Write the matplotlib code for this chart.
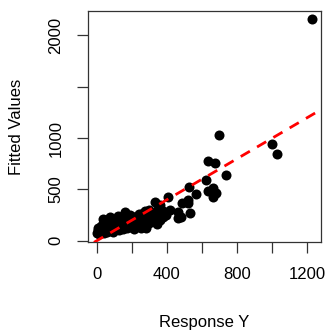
import matplotlib
matplotlib.use("Agg")
import matplotlib.pyplot as plt

plt.rcParams['font.family'] = ['Liberation Sans', 'DejaVu Sans']

# response (x) vs fitted (y)
response_y = [1228, 695, 1001, 1025, 632, 674, 735, 623, 664, 636, 680, 664,
              528, 566, 522, 484, 532, 408, 465, 465, 418, 380, 332, 361,
              342, 332, 275, 294, 237, 209, 161, 190, 133, 76, 38, 9, 2, 13,
              20, 30, 45, 50, 60, 70, 80, 90, 100, 110, 120, 130, 140, 150,
              160, 170, 180, 190, 200, 210, 220, 230, 240, 250, 260, 270, 280,
              300, 310, 320, 290, 250, 205, 120, 100, 60, 40, 25, 85, 150,
              175, 240, 280, 350, 300, 10, 35, 55, 65, 95, 125, 145, 165, 195,
              215, 350, 380, 395, 360, 320, 300, 250, 280, 215, 520, 480]
fitted = [2158, 1030, 942, 842, 780, 760, 643, 592, 517, 484, 468, 423,
          520, 455, 397, 370, 267, 429, 218, 283, 299, 234, 380, 348,
          163, 267, 292, 202, 202, 234, 283, 250, 202, 234, 211, 104, 72, 70,
          90, 120, 150, 100, 180, 130, 160, 110, 140, 190, 120, 160, 130, 200,
          150, 140, 180, 160, 150, 190, 160, 140, 170, 230, 150, 180, 140,
          170, 220, 190, 250, 260, 170, 240, 200, 90, 80, 140, 210, 110,
          120, 260, 210, 310, 300, 120, 160, 200, 110, 90, 100, 170, 210, 130,
          230, 230, 290, 250, 200, 260, 200, 120, 125, 115, 367, 234]

x_ticks = [0, 200, 400, 600, 800, 1000, 1200]
x_labels = ['0', '', '400', '', '800', '', '1200']
y_ticks = [0, 500, 1000, 1500, 2000]
y_labels = ['0', '500', '1000', '', '2000']

fig = plt.figure(figsize=(3.32, 3.32), dpi=100)
ax = fig.add_axes([0.266, 0.270, 0.700, 0.698])

ax.scatter(response_y, fitted, s=52, c='black', linewidths=0, zorder=2)
ax.axline((0, 0), slope=1, color='red', lw=2, linestyle=(0, (3.8, 3)), zorder=3)

ax.set_xlim(-48, 1276)
ax.set_ylim(-15.6, 2242)

ax.set_xticks(x_ticks)
ax.set_xticklabels(x_labels)
ax.set_yticks(y_ticks)
ax.set_yticklabels(y_labels, rotation=90, va='center')
ax.tick_params(direction='out', length=8, width=0.9, labelsize=12,
               color='#333333')
ax.tick_params(axis='x', pad=10)
ax.tick_params(axis='y', pad=10)
for s in ax.spines.values():
    s.set_linewidth(0.9)
    s.set_color('#333333')

ax.set_xlabel('Response Y', fontsize=12)
ax.xaxis.set_label_coords(0.5, -0.344)
ax.xaxis.label.set_va('center')
ax.set_ylabel('Fitted Values', fontsize=12)
ax.yaxis.set_label_coords(-0.311, 0.5)
ax.yaxis.label.set_va('center')

fig.savefig('out.png', dpi=100)
